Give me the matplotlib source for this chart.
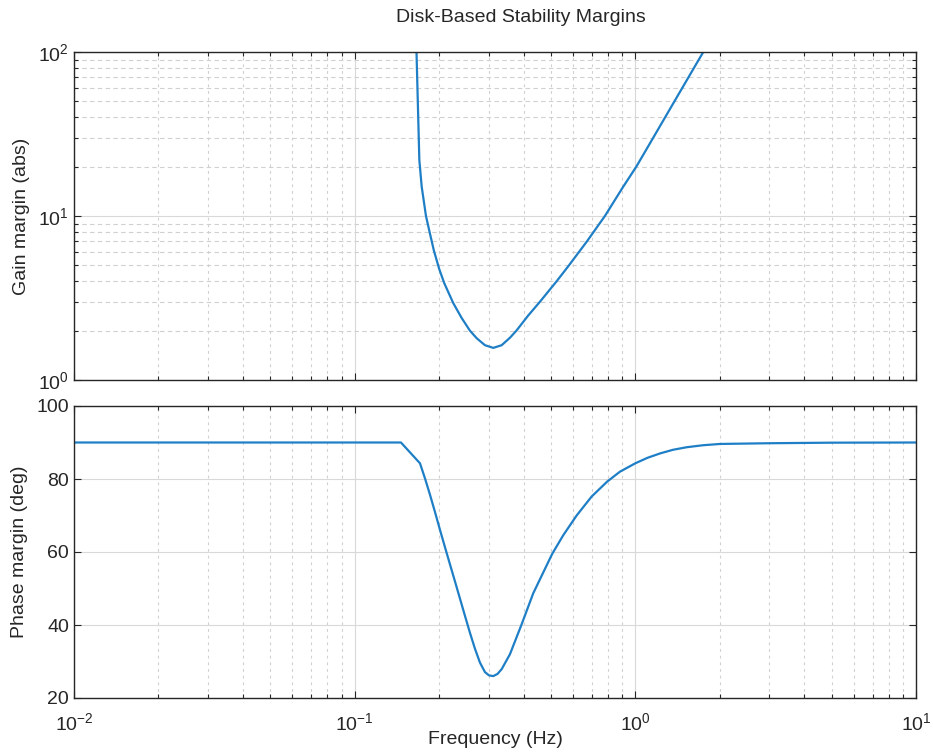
import numpy as np
import matplotlib
matplotlib.use("Agg")
import matplotlib.pyplot as plt
from matplotlib.ticker import LogLocator, NullFormatter

plt.rcParams['font.family'] = ['Liberation Sans', 'DejaVu Sans']
plt.rcParams['mathtext.fontset'] = 'custom'
plt.rcParams['mathtext.rm'] = 'Liberation Sans'
plt.rcParams['mathtext.it'] = 'Liberation Sans'

# ---- data ----
freq_gm = [0.1462, 0.1700, 0.1733, 0.1795, 0.1855, 0.1916, 0.2001, 0.2086, 0.2246,
           0.2405, 0.2574, 0.2719, 0.2912, 0.3118, 0.3340, 0.3575, 0.3770, 0.4150,
           0.4572, 0.5243, 0.5800, 0.6722, 0.7791, 0.9034, 1.0082, 1.158, 1.378,
           1.746, 2.001]
gain_margin = [4.0e5, 21.9, 15.1, 10.0, 7.8, 6.14, 4.75, 3.89, 2.94,
               2.39, 2.0, 1.80, 1.63, 1.57, 1.63, 1.81, 2.0, 2.47,
               3.0, 4.0, 5.0, 7.0, 10.0, 15.0, 20.0, 30.0, 50.0,
               100.0, 154.0]

freq_pm = [0.01, 0.1462, 0.1709, 0.1780, 0.1855, 0.1932, 0.2013, 0.2098, 0.2186,
           0.2278, 0.2373, 0.2472, 0.2574, 0.2683, 0.2795, 0.2912, 0.3010, 0.3118,
           0.3228, 0.3340, 0.3575, 0.3935, 0.4328, 0.5057, 0.5536, 0.6178, 0.6988,
           0.7940, 0.8813, 1.0, 1.1044, 1.224, 1.3612, 1.523, 1.7415, 2.001,
           3.0, 5.0, 10.0]
phase_margin = [90.0, 90.0, 84.3, 80.2, 75.7, 71.0, 66.1, 61.3, 56.6,
                51.9, 47.2, 42.5, 37.9, 33.5, 29.7, 27.1, 26.2, 26.0,
                26.6, 27.9, 32.0, 40.2, 48.7, 59.5, 64.6, 70.0, 75.2,
                79.3, 82.0, 84.3, 85.8, 87.0, 88.0, 88.7, 89.25, 89.6,
                89.8, 89.95, 90.0]

title = "Disk-Based Stability Margins"
xlabel = "Frequency (Hz)"
ylabel_gm = "Gain margin (abs)"
ylabel_pm = "Phase margin (deg)"
pm_ticks = [20, 40, 60, 80, 100]

line_color = '#1f7fc6'
fs = 14

fig = plt.figure(figsize=(9.33, 7.53), dpi=100)
W, H = 933, 753
ax1 = fig.add_axes([74 / W, 1 - 380 / H, (916 - 74) / W, (380 - 52) / H])
ax2 = fig.add_axes([74 / W, 1 - 698 / H, (916 - 74) / W, (698 - 406) / H])

def style(ax):
    ax.set_xscale('log')
    ax.set_xlim(1e-2, 1e1)
    ax.tick_params(which='both', direction='in', top=True, right=True,
                   labelsize=fs, colors='#262626', width=0.8)
    ax.tick_params(which='major', length=5)
    ax.tick_params(which='minor', length=3)
    ax.tick_params(axis='x', which='major', pad=10)
    for s in ax.spines.values():
        s.set_color('#262626')
        s.set_linewidth(1.0)
    ax.xaxis.set_minor_locator(LogLocator(base=10, subs=np.arange(2, 10), numticks=20))
    ax.xaxis.set_minor_formatter(NullFormatter())
    ax.grid(True, which='major', color='#d9d9d9', linestyle='-', linewidth=0.8)
    ax.grid(True, which='minor', axis='x', color='#d0d0d0', linestyle=(0, (2.5, 3.5)), linewidth=0.8)
    ax.set_axisbelow(True)

style(ax1)
ax1.set_yscale('log')
ax1.set_ylim(1, 100)
ax1.yaxis.set_minor_locator(LogLocator(base=10, subs=np.arange(2, 10), numticks=20))
ax1.yaxis.set_minor_formatter(NullFormatter())
ax1.grid(True, which='minor', axis='y', color='#d0d0d0', linestyle=(0, (4, 3)), linewidth=0.8)
ax1.tick_params(labelbottom=False)
ax1.plot(freq_gm, gain_margin, color=line_color, linewidth=1.6)
ax1.set_ylabel(ylabel_gm, fontsize=fs, color='#262626', labelpad=6)

style(ax2)
ax2.set_ylim(20, 100)
ax2.set_yticks(pm_ticks)
ax2.yaxis.set_minor_locator(plt.NullLocator())
ax2.plot(freq_pm, phase_margin, color=line_color, linewidth=1.6)
ax2.set_ylabel(ylabel_pm, fontsize=fs, color='#262626', labelpad=6)
ax2.set_xlabel(xlabel, fontsize=fs, color='#262626', labelpad=-2)

fig.text(521 / W, 1 - 18 / H, title, ha='center', va='center', fontsize=fs, color='#262626')

fig.savefig('out.png', dpi=100)
